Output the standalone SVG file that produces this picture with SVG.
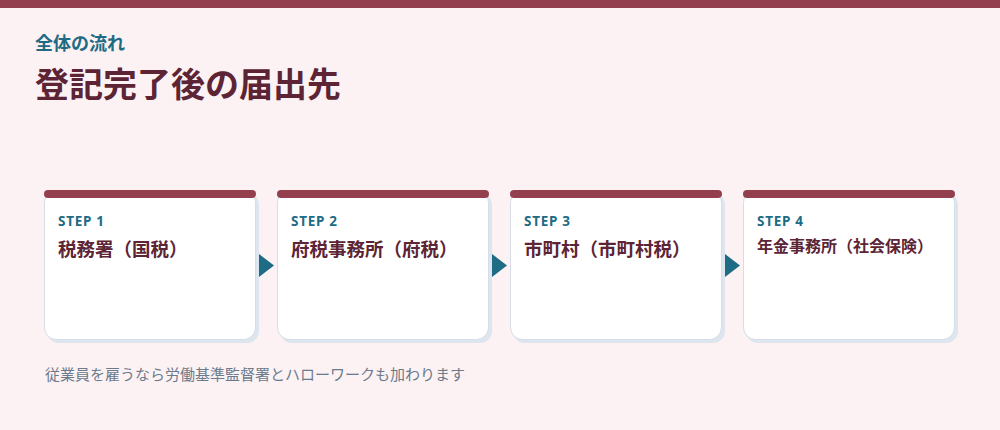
<svg xmlns="http://www.w3.org/2000/svg" width="1000" height="430" viewBox="0 0 1000 430">
<defs>
<style>
.bg{fill:#fcf2f3}
.topbar{fill:#943f4e}
.kicker{font-family:"Noto Sans CJK JP","Noto Sans",sans-serif;font-weight:700;font-size:18px;fill:#1e6b85}
.title{font-family:"Noto Sans CJK JP","Noto Sans",sans-serif;font-weight:700;font-size:34px;fill:#5c2434}
.shadow{fill:#dde5ee}
.card{fill:#ffffff;stroke:#d6dde7;stroke-width:1}
.cap{fill:#943f4e}
.step{font-family:"Noto Sans","Noto Sans CJK JP",sans-serif;font-weight:700;font-size:13.5px;fill:#1e6b85;letter-spacing:0.7px}
.label{font-family:"Noto Sans CJK JP","Noto Sans",sans-serif;font-weight:700;font-size:18.5px;fill:#5c2434}
.label.sm{font-size:16px}
.arrow{fill:#1e6b85}
.note{font-family:"Noto Sans CJK JP","Noto Sans",sans-serif;font-size:15px;fill:#6b7a8c}
</style>
</defs>
<rect class="bg" x="0" y="0" width="1000" height="430"/>
<rect class="topbar" x="0" y="0" width="1000" height="8"/>
<text class="kicker" x="35" y="50">全体の流れ</text>
<text class="title" x="35" y="97">登記完了後の届出先</text>

<g id="step1">
<rect class="shadow" x="47" y="193" width="212" height="150" rx="12"/>
<rect class="card" x="44.5" y="190.5" width="211" height="149" rx="12"/>
<rect class="cap" x="44" y="190" width="212" height="8" rx="4"/>
<text class="step" x="58" y="226">STEP 1</text>
<text class="label" x="58" y="256">税務署（国税）</text>
</g>
<g id="step2">
<rect class="shadow" x="280" y="193" width="212" height="150" rx="12"/>
<rect class="card" x="277.5" y="190.5" width="211" height="149" rx="12"/>
<rect class="cap" x="277" y="190" width="212" height="8" rx="4"/>
<text class="step" x="291" y="226">STEP 2</text>
<text class="label" x="291" y="256">府税事務所（府税）</text>
</g>
<g id="step3">
<rect class="shadow" x="513" y="193" width="212" height="150" rx="12"/>
<rect class="card" x="510.5" y="190.5" width="211" height="149" rx="12"/>
<rect class="cap" x="510" y="190" width="212" height="8" rx="4"/>
<text class="step" x="524" y="226">STEP 3</text>
<text class="label" x="524" y="256">市町村（市町村税）</text>
</g>
<g id="step4">
<rect class="shadow" x="746" y="193" width="212" height="150" rx="12"/>
<rect class="card" x="743.5" y="190.5" width="211" height="149" rx="12"/>
<rect class="cap" x="743" y="190" width="212" height="8" rx="4"/>
<text class="step" x="757" y="226">STEP 4</text>
<text class="label sm" x="757" y="252">年金事務所（社会保険）</text>
</g>

<g id="connectors">
<polygon class="arrow" points="259,254 274,265.5 259,277"/>
<polygon class="arrow" points="492,254 507,265.5 492,277"/>
<polygon class="arrow" points="725,254 740,265.5 725,277"/>
</g>

<text class="note" x="45" y="380">従業員を雇うなら労働基準監督署とハローワークも加わります</text>
</svg>
